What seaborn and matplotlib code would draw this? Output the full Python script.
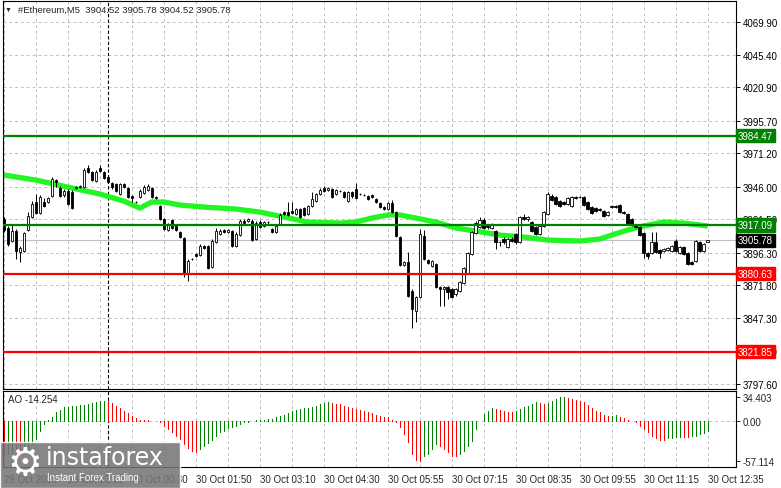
import numpy as np
import pandas as pd
import matplotlib
matplotlib.use("Agg")
import matplotlib.pyplot as plt
import matplotlib.transforms as mtransforms
from matplotlib.patches import Rectangle
import seaborn as sns

# #Ethereum M5 candles, 29 Oct 21:50 -> 30 Oct 12:35 (one bar = 5 min)
opens = [
    3921.8, 3915.0, 3905.2, 3912.7, 3896.9, 3897.7, 3913.5, 3923.3, 3934.6, 3926.3,
    3934.6, 3934.6, 3939.1, 3951.1, 3945.1, 3939.8, 3942.8, 3942.1, 3945.1, 3945.8,
    3945.8, 3960.2, 3957.1, 3950.4, 3960.2, 3957.1, 3953.4, 3948.9, 3948.1, 3940.6,
    3948.1, 3945.1, 3939.1, 3934.6, 3938.3, 3941.3, 3943.6, 3945.1, 3938.3, 3931.5,
    3921.8, 3913.5, 3921.0, 3917.2, 3912.0, 3907.5, 3880.3, 3891.6, 3895.4, 3894.6,
    3901.4, 3901.4, 3885.6, 3904.4, 3910.5, 3913.5, 3912.0, 3912.7, 3901.4, 3909.7,
    3920.3, 3920.3, 3920.3, 3906.7, 3919.5, 3916.5, 3919.5, 3914.2, 3912.0, 3918.0,
    3927.0, 3927.0, 3927.8, 3925.5, 3929.3, 3930.0, 3925.5, 3931.5, 3935.3, 3940.6,
    3945.1, 3943.6, 3944.3, 3940.6, 3942.8, 3942.1, 3935.3, 3942.1, 3944.3, 3940.6,
    3939.8, 3939.1, 3939.8, 3936.8, 3933.8, 3930.8, 3929.3, 3933.8, 3927.0, 3908.2,
    3887.1, 3889.4, 3867.5, 3852.5, 3863.0, 3909.0, 3890.9, 3886.4, 3887.9, 3870.6,
    3869.0, 3870.6, 3869.0, 3865.3, 3867.5, 3873.6, 3881.1, 3895.4, 3911.2, 3915.7,
    3921.0, 3916.5, 3915.0, 3912.7, 3904.4, 3906.7, 3900.7, 3906.7, 3910.5, 3904.4,
    3923.3, 3921.8, 3919.5, 3915.7, 3910.5, 3916.5, 3925.5, 3939.1, 3938.3, 3935.3,
    3934.6, 3933.0, 3931.5, 3938.3, 3938.3, 3938.3, 3934.6, 3930.8, 3930.0, 3929.3,
    3927.8, 3924.8, 3931.5, 3931.4, 3932.3, 3927.0, 3925.5, 3921.8, 3917.2, 3915.7,
    3911.2, 3896.2, 3896.2, 3904.4, 3898.4, 3897.7, 3898.4, 3897.7, 3905.2, 3896.2,
    3900.7, 3896.2, 3889.4, 3890.1, 3904.4, 3897.7, 3904.52,
]
highs = [
    3923.3, 3916.5, 3918.0, 3914.2, 3901.4, 3912.0, 3927.0, 3935.3, 3940.6, 3939.8,
    3937.6, 3938.3, 3953.4, 3951.9, 3946.6, 3944.3, 3944.3, 3943.6, 3946.6, 3947.4,
    3960.2, 3962.4, 3957.9, 3958.6, 3962.4, 3957.9, 3954.9, 3949.6, 3948.9, 3948.9,
    3948.9, 3945.8, 3939.8, 3935.3, 3944.3, 3947.4, 3948.1, 3945.8, 3939.1, 3932.3,
    3922.5, 3918.7, 3921.8, 3918.0, 3912.7, 3908.2, 3891.6, 3892.4, 3896.2, 3902.9,
    3902.2, 3902.2, 3906.7, 3915.0, 3914.2, 3914.2, 3914.2, 3913.5, 3912.0, 3921.8,
    3921.8, 3922.5, 3921.8, 3920.3, 3921.0, 3920.3, 3920.3, 3915.0, 3917.2, 3926.3,
    3927.8, 3934.6, 3934.6, 3930.0, 3930.0, 3930.8, 3932.3, 3942.1, 3941.3, 3945.1,
    3946.6, 3945.8, 3945.1, 3944.3, 3943.6, 3942.8, 3942.8, 3942.8, 3948.9, 3941.3,
    3940.6, 3939.8, 3940.6, 3937.6, 3934.6, 3931.5, 3934.6, 3936.1, 3927.8, 3909.0,
    3890.1, 3896.9, 3869.0, 3863.8, 3914.2, 3913.5, 3891.6, 3890.9, 3888.6, 3871.3,
    3871.3, 3871.3, 3869.8, 3869.8, 3875.1, 3885.6, 3896.9, 3912.7, 3920.3, 3923.3,
    3922.5, 3917.2, 3918.7, 3913.5, 3905.2, 3908.2, 3907.5, 3908.2, 3911.2, 3924.0,
    3925.5, 3924.0, 3920.3, 3916.5, 3917.2, 3927.8, 3942.1, 3940.6, 3939.1, 3936.1,
    3935.3, 3938.3, 3939.1, 3939.1, 3939.1, 3939.1, 3935.3, 3931.5, 3930.8, 3930.0,
    3928.5, 3927.8, 3932.3, 3932.3, 3933.0, 3927.8, 3926.3, 3922.5, 3918.0, 3916.5,
    3912.0, 3896.9, 3912.0, 3912.0, 3899.2, 3899.9, 3900.7, 3902.2, 3906.7, 3901.4,
    3901.4, 3896.9, 3890.1, 3905.9, 3905.2, 3903.7, 3905.78,
]
lows = [
    3911.9, 3901.4, 3904.4, 3891.6, 3889.4, 3896.9, 3912.7, 3922.5, 3925.5, 3925.5,
    3930.8, 3933.8, 3938.3, 3945.8, 3938.3, 3938.3, 3932.3, 3929.3, 3944.3, 3945.1,
    3945.1, 3956.4, 3950.4, 3949.6, 3957.1, 3951.9, 3948.9, 3944.3, 3942.1, 3939.8,
    3945.1, 3937.6, 3934.6, 3933.8, 3937.6, 3940.6, 3942.8, 3937.6, 3936.8, 3921.0,
    3913.5, 3912.7, 3914.2, 3912.7, 3907.5, 3878.1, 3875.1, 3890.9, 3893.1, 3893.9,
    3899.2, 3884.1, 3884.9, 3903.7, 3909.7, 3911.2, 3911.2, 3900.7, 3900.7, 3909.0,
    3917.2, 3919.5, 3905.2, 3905.9, 3915.0, 3915.7, 3918.0, 3911.2, 3911.2, 3917.2,
    3924.8, 3924.0, 3925.5, 3924.8, 3922.5, 3924.0, 3924.8, 3930.8, 3934.6, 3939.8,
    3942.1, 3942.8, 3937.6, 3939.8, 3942.1, 3937.6, 3934.6, 3937.6, 3936.8, 3939.8,
    3939.1, 3936.1, 3937.6, 3933.8, 3930.0, 3928.5, 3928.5, 3926.3, 3908.2, 3886.4,
    3886.4, 3863.0, 3839.7, 3844.2, 3862.3, 3890.9, 3887.9, 3885.6, 3869.8, 3856.3,
    3856.3, 3861.5, 3862.3, 3863.8, 3866.8, 3872.8, 3880.3, 3894.6, 3910.5, 3915.0,
    3914.2, 3914.2, 3914.2, 3899.2, 3901.4, 3902.9, 3899.9, 3904.4, 3902.9, 3903.7,
    3921.0, 3920.3, 3912.0, 3909.7, 3909.7, 3915.7, 3924.8, 3935.3, 3932.3, 3930.8,
    3932.3, 3932.3, 3930.8, 3936.8, 3937.6, 3931.5, 3928.5, 3925.5, 3927.0, 3927.8,
    3923.3, 3924.0, 3930.0, 3930.0, 3926.3, 3925.5, 3917.2, 3916.5, 3915.0, 3909.0,
    3892.4, 3891.6, 3895.4, 3896.2, 3892.4, 3896.9, 3897.7, 3896.9, 3896.9, 3895.4,
    3894.6, 3887.1, 3887.1, 3889.4, 3896.9, 3896.9, 3904.52,
]
closes = [
    3913.5, 3902.9, 3912.7, 3897.7, 3899.9, 3911.2, 3924.0, 3933.0, 3926.3, 3938.3,
    3931.5, 3937.6, 3951.9, 3949.6, 3939.1, 3942.8, 3933.0, 3930.0, 3945.8, 3946.6,
    3958.6, 3957.1, 3951.1, 3957.1, 3957.9, 3952.6, 3949.6, 3945.8, 3942.8, 3948.1,
    3945.8, 3938.3, 3937.6, 3934.4, 3942.8, 3945.8, 3946.6, 3938.3, 3937.6, 3921.8,
    3914.2, 3917.2, 3915.0, 3913.5, 3908.2, 3880.3, 3890.1, 3891.5, 3893.9, 3901.4,
    3899.9, 3884.9, 3905.2, 3912.7, 3912.7, 3912.0, 3913.5, 3901.4, 3910.5, 3920.3,
    3918.7, 3921.8, 3905.9, 3918.7, 3915.7, 3919.5, 3919.3, 3912.0, 3916.5, 3924.8,
    3925.5, 3924.8, 3926.3, 3929.3, 3923.3, 3924.8, 3931.5, 3936.8, 3940.6, 3943.6,
    3942.8, 3945.1, 3938.3, 3943.6, 3942.6, 3938.3, 3942.1, 3939.1, 3937.6, 3940.4,
    3939.6, 3936.8, 3938.3, 3934.6, 3930.8, 3929.3, 3933.8, 3927.0, 3909.0, 3887.1,
    3889.4, 3863.8, 3854.0, 3863.0, 3910.5, 3891.6, 3888.6, 3890.1, 3870.6, 3869.0,
    3870.6, 3866.8, 3863.0, 3869.0, 3874.3, 3884.9, 3896.2, 3912.0, 3918.7, 3921.0,
    3915.0, 3915.7, 3918.0, 3904.4, 3904.2, 3904.4, 3906.7, 3905.2, 3904.4, 3923.3,
    3921.8, 3923.3, 3912.7, 3910.5, 3916.5, 3927.0, 3940.6, 3936.1, 3933.0, 3931.5,
    3933.0, 3937.6, 3938.3, 3937.6, 3938.1, 3932.3, 3929.3, 3926.3, 3927.8, 3928.5,
    3924.0, 3927.0, 3930.8, 3930.9, 3927.0, 3926.3, 3918.0, 3917.2, 3915.7, 3909.7,
    3896.2, 3893.9, 3904.4, 3896.9, 3896.2, 3899.2, 3899.9, 3901.4, 3897.7, 3900.7,
    3895.4, 3887.9, 3887.9, 3905.2, 3897.7, 3902.9, 3905.78,
]

# moving average (green band), read at bar positions
ma_bar = [0, 8, 16, 24, 30, 34, 37, 40, 44, 50, 58, 64, 70, 76, 84, 88, 92, 96, 99,
          103, 108, 113, 118, 124, 130, 136, 144, 149, 152, 156, 160, 165, 170, 176]
ma_price = [3954.9, 3951.1, 3945.8, 3940.6, 3935.3, 3930.0, 3934.6, 3934.6, 3932.3,
            3930.8, 3929.3, 3927.0, 3923.3, 3919.5, 3918.7, 3919.5, 3922.5, 3924.8,
            3924.8, 3922.5, 3919.5, 3915.0, 3912.7, 3909.7, 3908.2, 3905.9, 3905.2,
            3906.7, 3909.7, 3913.5, 3916.5, 3919.5, 3918.7, 3916.5]

# Awesome Oscillator
ao = [
    -50, -48, -46, -47, -48, -45, -40, -34, -26, -15,
    -5, 1.5, 4.8, 11.9, 15.7, 19.0, 20.0, 20.5, 21.0, 22.0,
    23.0, 24.0, 25.2, 26.2, 27.6, 28.6, 27.6, 24.8, 21.4, 17.6,
    14.3, 10.5, 7.1, 3.8, 1.4, 1.0, 0.5, 0.2, -0.3, -2.4,
    -7.1, -11.9, -16.7, -21.4, -26.2, -33.3, -39.5, -42.9, -44.3, -40.5,
    -35.7, -31.9, -27.1, -22.4, -16.7, -14.3, -11.0, -9.5, -7.1, -4.8,
    -2.4, -1.4, -0.5, 0.5, 1.0, 1.4, 1.9, 2.9, 4.8, 6.2,
    8.1, 10.5, 13.8, 15.7, 16.7, 17.6, 18.6, 19.5, 21.4, 23.3,
    24.8, 26.2, 25.2, 24.3, 23.3, 21.4, 19.5, 18.1, 16.7, 15.2,
    13.8, 11.9, 11.0, 8.6, 7.1, 5.7, 4.8, 1.5, -2.4, -9.5,
    -19.0, -31.0, -47.6, -56.0, -57.114, -51.0, -47.6, -40.5, -33.3, -35.7,
    -40.5, -45.2, -50.0, -50.2, -47.6, -42.9, -35.7, -28.6, -11.9, -0.5,
    9.5, 14.3, 17.6, 17.4, 15.7, 13.3, 11.9, 11.7, 14.3, 16.7,
    19.0, 21.4, 23.8, 26.2, 24.8, 23.8, 25.2, 27.6, 31.0, 33.3,
    34.403, 33.0, 31.0, 29.5, 27.6, 26.2, 22.4, 17.6, 14.3, 11.9,
    8.1, 7.1, 7.3, 7.5, 4.8, 3.8, 1.4, 0.0, -2.4, -7.1,
    -11.9, -16.7, -21.4, -25.2, -27.1, -27.3, -25.2, -25.0, -23.8, -22.9,
    -23.0, -23.1, -22.4, -21.4, -19.0, -17.6, -14.254,
]

price_ticks = [4069.90, 4045.40, 4020.90, 3995.70, 3971.20, 3946.00, 3921.50,
               3896.30, 3871.80, 3847.30, 3822.10, 3797.60]
time_ticks = [0, 16, 32, 48, 64, 80, 96, 112, 128, 144, 160, 176]
time_labels = ["29 Oct 2025", "29 Oct 23:10", "30 Oct 00:30", "30 Oct 01:50",
               "30 Oct 03:10", "30 Oct 04:30", "30 Oct 05:55", "30 Oct 07:15",
               "30 Oct 08:35", "30 Oct 09:55", "30 Oct 11:15", "30 Oct 12:35"]
resistance = [3984.47, 3917.09]
support = [3880.63, 3821.85]
last_price = 3905.78
day_split = 26  # 30 Oct 00:00

sns.set_style("white")
plt.rcParams["font.family"] = ["Liberation Sans", "DejaVu Sans"]

W, H = 781, 489
fig = plt.figure(figsize=(W / 100, H / 100), dpi=100)
fig.patch.set_facecolor("white")
ax = fig.add_axes([3 / W, (H - 390) / H, 732.7 / W, 388 / H])
ax2 = fig.add_axes([3 / W, (H - 468.3) / H, 732.7 / W, 76.3 / H])

bars = np.arange(len(closes))
o = np.array(opens)
c = np.array(closes)
grid_kw = dict(color="#c0c0c0", linestyle=(0, (3, 3)), linewidth=0.7)

# ---- price panel ----
ax.set_axisbelow(True)
ax.set_xticks(range(0, 184, 8))
ax.set_yticks(price_ticks)
ax.set_yticklabels([f"{p:.2f}" for p in price_ticks])
ax.grid(True, **grid_kw)
ax.axhline(last_price, color="#c0c0c0", lw=0.8, zorder=1)
ax.axvline(day_split, color="black", ls=(0, (3, 2)), lw=0.8, zorder=1.5)

sns.lineplot(x=ma_bar, y=ma_price, color="#22f522", linewidth=3.8, ax=ax,
             zorder=2, solid_capstyle="butt")

ax.vlines(bars, lows, highs, color="black", lw=0.7, zorder=2.9)
up = c >= o
ax.bar(bars, np.maximum(np.abs(c - o), 0.2), bottom=np.minimum(o, c), width=0.62,
       color=np.where(up, "white", "black"), edgecolor="black", linewidth=0.6, zorder=3)

for lv in resistance:
    ax.axhline(lv, color="#008000", lw=1.6, zorder=4)
for lv in support:
    ax.axhline(lv, color="#ff0000", lw=1.6, zorder=4)

ax.set_xlim(-0.2, 183.0)
ax.set_ylim(3793.8, 4085.9)
ax.yaxis.tick_right()
ax.tick_params(axis="y", length=3, width=0.7, labelsize=7, pad=2, colors="black")
ax.tick_params(axis="x", length=0, labelbottom=False)
ax.set_xlabel("")
ax.set_ylabel("")
for s in ax.spines.values():
    s.set_color("black")
    s.set_linewidth(0.8)

trans = mtransforms.blended_transform_factory(ax.transAxes, ax.transData)
tags = [(3984.47, "#008000"), (3917.09, "#008000"), (last_price, "black"),
        (3880.63, "#ff0000"), (3821.85, "#ff0000")]
for val, col in tags:
    ax.text(1.003, val, f"{val:.2f}", transform=trans, ha="left", va="center",
            color="white", fontsize=7, zorder=10, clip_on=False,
            bbox=dict(boxstyle="square,pad=0.18", fc=col, ec=col))

# ---- AO panel ----
df_ao = pd.DataFrame({"bar": bars, "ao": ao})
df_ao["col"] = np.where(df_ao["ao"].diff() > 0, "#008000", "#ff0000")
ax2.set_axisbelow(True)
ax2.axhline(0, **grid_kw, zorder=0)
ax2.vlines(df_ao["bar"], 0, df_ao["ao"], colors=df_ao["col"], lw=0.72,
           antialiased=False, zorder=3)
ax2.set_xticks(range(0, 184, 8), minor=True)
ax2.set_xticks(time_ticks)
ax2.set_xticklabels(time_labels)
for lbl in ax2.get_xticklabels():
    lbl.set_ha("left")
ax2.grid(True, which="both", axis="x", **grid_kw)
ax2.axvline(day_split, color="black", ls=(0, (3, 2)), lw=0.8, zorder=1.5)
ax2.set_xlim(-0.2, 183.0)
ax2.set_ylim(-66.6, 42.4)
ax2.set_yticks([34.403, 0, -57.114])
ax2.set_yticklabels(["34.403", "0.00", "-57.114"])
ax2.yaxis.tick_right()
ax2.tick_params(axis="y", length=3, width=0.7, labelsize=7, pad=2)
ax2.tick_params(axis="x", which="major", length=3, width=0.7, labelsize=7, pad=2)
ax2.tick_params(axis="x", which="minor", length=0)
for s in ax2.spines.values():
    s.set_color("black")
    s.set_linewidth(0.8)

# ---- header texts ----
fig.text(5 / W, 1 - 10 / H, "\u25BC", fontsize=5, va="center", ha="left")
fig.text(18 / W, 1 - 10 / H, "#Ethereum,M5  3904.52 3905.78 3904.52 3905.78",
         fontsize=6.8, va="center", ha="left")
fig.text(8 / W, 1 - 400 / H, "AO -14.254", fontsize=7, va="center", ha="left")

# ---- watermark ----
fig.patches.append(Rectangle((0, 0), 180 / W, 46 / H, transform=fig.transFigure,
                             facecolor="#767676", alpha=0.88, zorder=20))
fig.text(25 / W, 1 - 464 / H, "\u2699", fontsize=28, color="white", ha="center",
         va="center", family="DejaVu Sans", zorder=21)
fig.text(46 / W, 1 - 465 / H, "instaforex", fontsize=17, color="white", ha="left",
         va="baseline", family="DejaVu Sans", zorder=21)
fig.text(47 / W, 1 - 478 / H, "Instant Forex Trading", fontsize=7, color="white",
         ha="left", va="center", zorder=21)

fig.savefig("out.png", dpi=100)
